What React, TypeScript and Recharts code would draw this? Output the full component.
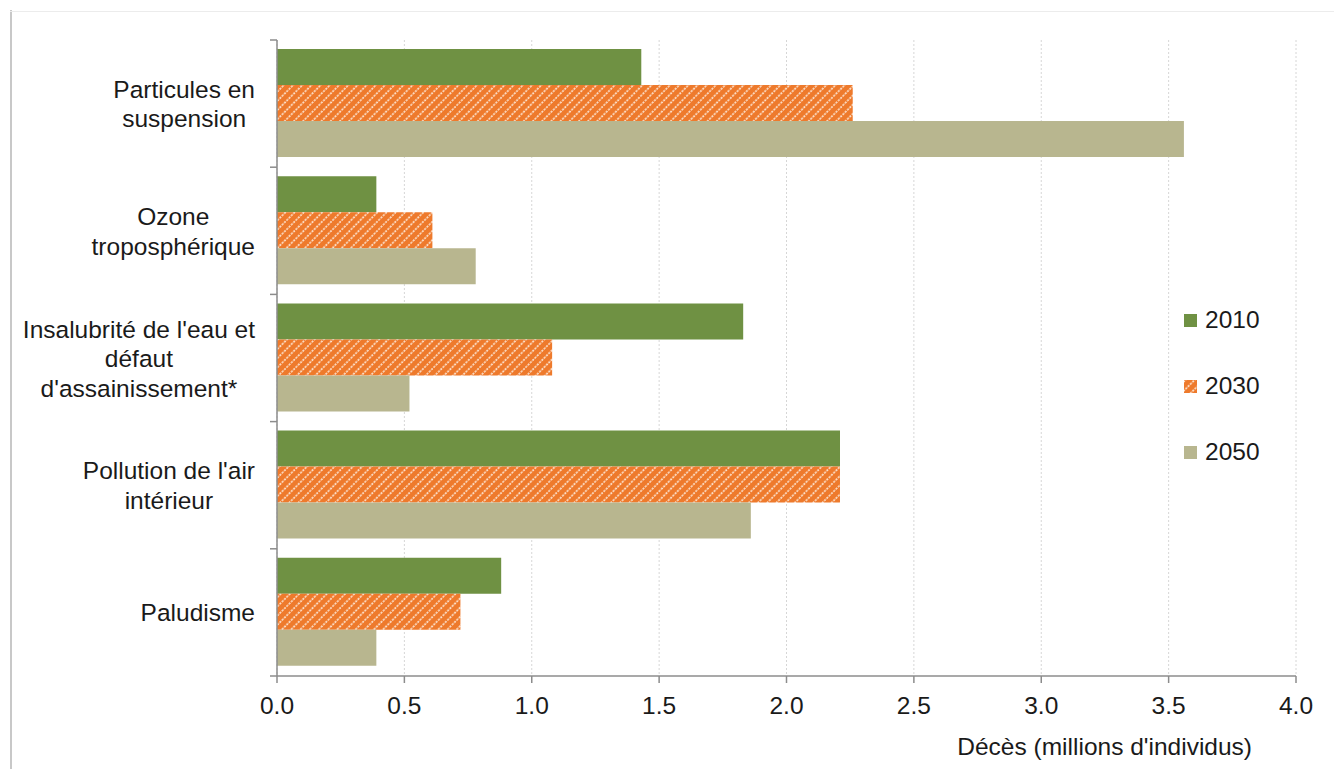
import React from "react"
import {
  BarChart, Bar, XAxis, YAxis, CartesianGrid, Legend,
} from "recharts"

const categories = [
  "Particules en\nsuspension",
  "Ozone\ntroposphérique",
  "Insalubrité de l'eau et\ndéfaut\nd'assainissement*",
  "Pollution de l'air\nintérieur",
  "Paludisme",
]
const years = ["2010", "2030", "2050"]
const v2010 = [1.43, 0.39, 1.83, 2.21, 0.88]
const v2030 = [2.26, 0.61, 1.08, 2.21, 0.72]
const v2050 = [3.56, 0.78, 0.52, 1.86, 0.39]
const xTicks = [0, 0.5, 1, 1.5, 2, 2.5, 3, 3.5, 4]

const FONT = "'Liberation Sans', Arial, sans-serif"
const FS = 24.5
const GREEN = "#6f9143"
const ORANGE = "#ee7a2c"
const BEIGE = "#b8b68f"
const AXIS = "#8c8c8c"

const data = categories.map((name, i) => ({
  name,
  "2010": v2010[i],
  "2030": v2030[i],
  "2050": v2050[i],
}))

let ctx: CanvasRenderingContext2D | null = null
function textWidth(s: string) {
  if (!ctx) ctx = document.createElement("canvas").getContext("2d")
  if (!ctx) return s.length * 12
  ctx.font = `${FS}px "Liberation Sans"`
  return ctx.measureText(s).width
}

const BAND = 636 / categories.length

function CategoryTick(props: any) {
  const { x, y, payload, index } = props
  const lines = String(payload.value).split("\n")
  const half = payload.offset || BAND / 2
  const blockW = Math.max(...lines.map(textWidth))
  const cx = x - 22 - blockW / 2
  const lh = 29.5
  const y0 = y - ((lines.length - 1) * lh) / 2
  return (
    <g>
      <line x1={x - 7} x2={x} y1={y - half} y2={y - half} stroke={AXIS} strokeWidth={1.5} />
      {index === categories.length - 1 && (
        <line x1={x - 7} x2={x} y1={y + half} y2={y + half} stroke={AXIS} strokeWidth={1.5} />
      )}
      <text x={cx} y={y0} textAnchor="middle" dominantBaseline="central"
        fontSize={FS} fontFamily={FONT} fill="#1a1a1a">
        {lines.map((l, i) => (
          <tspan key={i} x={cx} y={y0 + i * lh}>{l}</tspan>
        ))}
      </text>
    </g>
  )
}

function Swatch({ fill }: { fill: string }) {
  return (
    <svg width={13} height={13} style={{ marginRight: 8 }}>
      <rect width={13} height={13} fill={fill} />
    </svg>
  )
}

function LegendBox() {
  const fills = [GREEN, "url(#hatch)", BEIGE]
  return (
    <div style={{ fontFamily: FONT, fontSize: FS, color: "#1a1a1a" }}>
      {years.map((y, i) => (
        <div key={y} style={{ display: "flex", alignItems: "center", height: 66 }}>
          <Swatch fill={fills[i]} />
          <span>{y}</span>
        </div>
      ))}
    </div>
  )
}

function AxisTitle(props: any) {
  const vb = props.viewBox
  return (
    <text x={vb.x + vb.width - 44} y={755} textAnchor="end"
      fontSize={FS} fontFamily={FONT} fill="#1a1a1a">
      Décès (millions d'individus)
    </text>
  )
}

export default function App() {
  return (
    <div style={{ position: "absolute", left: 0, top: 0, width: 1334, height: 769, background: "#fff" }}>
      <div style={{ position: "absolute", left: 10, top: 10, width: 2, height: 759, background: "#c8c8c8" }} />
      <div style={{ position: "absolute", left: 10, top: 11, width: 1324, height: 1, background: "#ececec" }} />
      <BarChart
        width={1334} height={769} data={data} layout="vertical"
        margin={{ top: 40, right: 38, left: 10, bottom: 0 }}
        barCategoryGap={9} barGap={0}
      >
        <defs>
          <pattern id="hatch" width={6.5} height={6.5} patternUnits="userSpaceOnUse" patternTransform="rotate(45)">
            <rect width={6.5} height={6.5} fill={ORANGE} />
            <line x1={1} y1={0} x2={1} y2={6.5} stroke="#fde6d4" strokeWidth={1.6} strokeDasharray="2.2 1" />
          </pattern>
        </defs>
        <CartesianGrid horizontal={false} stroke="#d6d6d6" strokeDasharray="2 2" />
        <XAxis
          type="number" domain={[0, 4]} ticks={xTicks}
          tickFormatter={(v) => Number(v).toFixed(1)}
          tick={{ fontSize: FS, fontFamily: FONT, fill: "#1a1a1a" }}
          tickSize={7} tickMargin={14}
          stroke={AXIS} strokeWidth={1.5}
          height={93}
          label={<AxisTitle />}
        />
        <YAxis
          type="category" dataKey="name" width={267}
          tick={<CategoryTick />} tickLine={false} tickSize={0} tickMargin={0}
          stroke={AXIS} strokeWidth={1.5} interval={0}
        />
        <Legend
          layout="vertical" align="center" verticalAlign="middle"
          content={() => <LegendBox />}
          wrapperStyle={{ position: "absolute", left: 1184, top: 287, width: 100 }}
        />
        <Bar dataKey="2010" fill={GREEN} isAnimationActive={false} />
        <Bar dataKey="2030" fill="url(#hatch)" isAnimationActive={false} />
        <Bar dataKey="2050" fill={BEIGE} isAnimationActive={false} />
      </BarChart>
    </div>
  )
}
